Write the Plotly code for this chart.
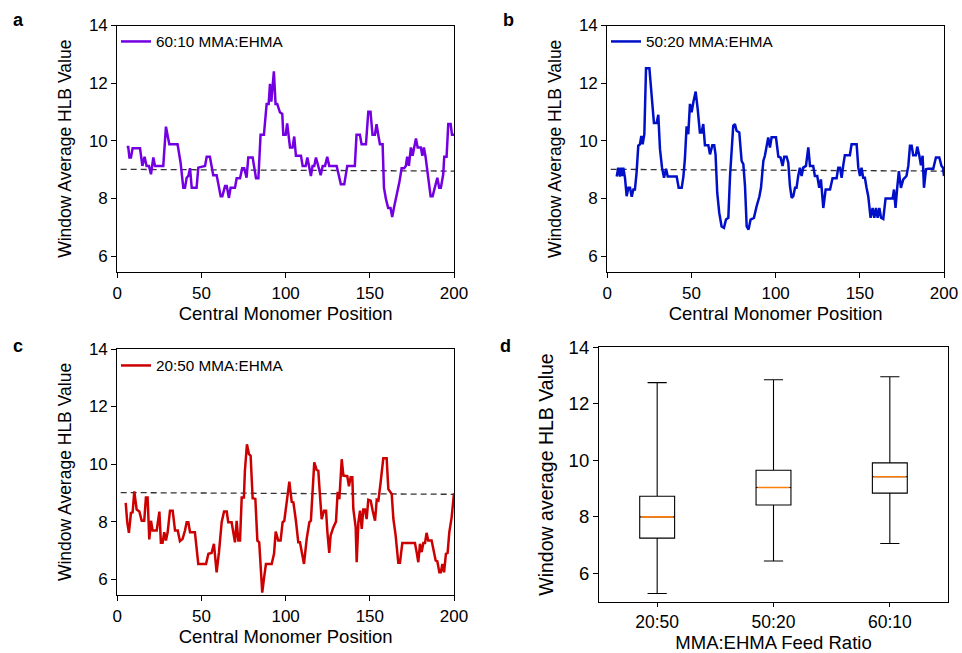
import plotly.graph_objects as go

# ---------------- data ----------------
a_x = [5.6, 6.5, 7.2, 8.1, 9.1, 13.5, 14.9, 16.2, 17.4, 18.8, 20.0, 21.4, 22.4, 27.3, 28.9, 30.9, 35.8, 37.6,
       39.2, 40.2, 41.2, 42.2, 43.2, 44.2, 47.1, 48.1, 52.1, 53.1, 55.0, 56.0, 57.0, 59.0, 61.4, 62.4, 64.0,
       65.0, 66.3, 67.3, 69.9, 70.9, 72.9, 74.2, 75.4, 76.8, 77.8, 80.4, 82.4, 83.8, 85.1, 87.1, 88.7, 89.9,
       90.7, 91.5, 92.3, 93.0, 94.0, 95.0, 96.6, 98.0, 98.6, 100.0, 100.9, 101.9, 102.6, 104.1, 105.1, 106.1,
       109.1, 110.1, 111.9, 112.9, 114.0, 115.0, 116.0, 117.0, 118.0, 119.4, 120.8, 122.0, 123.4, 124.7,
       125.9, 130.3, 131.5, 132.8, 134.8, 136.6, 141.1, 142.1, 144.1, 145.1, 147.7, 149.1, 150.4, 151.6,
       153.0, 154.0, 155.0, 156.0, 157.6, 158.4, 159.6, 160.9, 162.3, 163.3, 164.3, 165.9, 167.5, 168.9,
       170.4, 171.4, 172.2, 173.2, 174.4, 175.4, 176.4, 177.4, 178.4, 180.3, 181.2, 182.1, 183.1, 184.7,
       186.1, 187.3, 188.7, 190.1, 191.2, 192.2, 193.6, 194.2, 195.6, 196.6, 198.0, 198.8, 200.0]
a_y = [9.79, 9.79, 9.42, 9.42, 9.74, 9.74, 9.13, 9.45, 9.13, 9.13, 8.84, 9.42, 9.13, 9.13, 10.49, 9.88, 9.88,
       9.24, 8.37, 8.37, 8.72, 8.78, 9.05, 8.37, 8.37, 9.07, 9.13, 9.45, 9.45, 9.07, 8.81, 8.81, 8.08, 8.08,
       8.43, 8.43, 8.02, 8.37, 8.37, 8.70, 8.70, 9.05, 9.05, 8.72, 9.42, 9.42, 8.70, 8.70, 10.21, 10.21,
       11.28, 11.28, 11.98, 11.36, 11.98, 12.41, 11.28, 11.28, 10.99, 10.93, 10.21, 10.21, 10.60, 10.17,
       9.77, 9.77, 10.15, 9.48, 9.48, 9.13, 9.13, 9.42, 9.13, 8.78, 9.13, 9.13, 9.42, 9.13, 8.81, 9.13, 9.13,
       9.45, 9.13, 9.13, 8.84, 8.49, 8.49, 9.13, 9.13, 10.21, 10.21, 9.88, 9.88, 11.01, 11.01, 10.21, 10.21,
       10.58, 10.21, 9.88, 9.88, 8.37, 7.97, 7.67, 7.67, 7.36, 7.67, 8.06, 8.55, 9.05, 9.05, 9.13, 9.45,
       9.13, 9.77, 9.48, 9.79, 10.08, 9.77, 9.77, 9.48, 9.77, 9.45, 8.78, 8.08, 8.08, 8.43, 8.72, 8.37, 8.37,
       8.84, 9.45, 9.45, 10.58, 10.58, 10.21, 10.21]

b_x = [5.6, 6.5, 7.5, 8.1, 8.9, 9.5, 10.5, 11.5, 12.5, 13.5, 14.5, 15.5, 16.4, 17.4, 18.4, 19.4, 20.2, 21.0,
       22.0, 23.0, 25.0, 26.3, 27.7, 29.3, 30.3, 31.3, 32.5, 33.7, 34.9, 35.9, 41.2, 42.4, 44.2, 45.2, 46.1,
       47.1, 48.1, 49.1, 50.1, 51.1, 52.5, 53.7, 55.0, 56.0, 57.0, 58.0, 60.0, 61.0, 62.4, 63.5, 64.3, 65.3,
       66.5, 67.9, 69.3, 70.5, 71.9, 72.9, 73.9, 74.8, 75.8, 76.8, 78.4, 79.8, 80.8, 81.8, 82.8, 83.9, 85.1,
       87.1, 88.7, 90.3, 91.3, 92.7, 93.6, 94.6, 95.6, 96.6, 97.6, 100.2, 101.6, 102.9, 104.1, 105.1, 106.5,
       107.5, 108.5, 109.5, 110.5, 111.5, 112.4, 113.4, 114.4, 115.4, 116.4, 118.0, 119.4, 120.4, 122.3,
       123.3, 124.7, 125.9, 126.9, 128.3, 129.7, 132.3, 133.8, 136.2, 137.2, 138.2, 139.2, 140.1, 141.1,
       144.1, 145.1, 148.1, 149.1, 150.1, 151.0, 152.0, 153.0, 154.0, 155.0, 156.4, 157.6, 158.6, 159.6,
       160.6, 161.6, 162.6, 163.9, 165.3, 169.5, 170.3, 171.2, 172.2, 173.2, 174.4, 175.8, 176.8, 177.7,
       178.8, 179.8, 180.8, 181.7, 183.3, 184.1, 185.3, 186.3, 187.3, 188.1, 189.3, 190.6, 193.6, 195.2,
       197.2, 198.5, 199.4, 200.0]
b_y = [8.76, 9.07, 8.76, 9.07, 8.78, 9.07, 8.72, 8.08, 8.37, 8.37, 8.06, 8.31, 8.31, 8.90, 9.83, 9.88, 10.17,
       9.88, 10.23, 12.52, 12.52, 11.69, 10.62, 10.62, 10.90, 9.71, 9.07, 8.72, 9.03, 8.76, 8.76, 8.37, 8.37,
       8.76, 9.38, 10.50, 10.23, 11.28, 10.99, 11.34, 11.71, 11.10, 10.29, 10.29, 10.58, 9.85, 9.85, 9.53,
       9.85, 9.85, 9.53, 8.20, 7.50, 7.03, 6.98, 7.27, 7.33, 8.78, 9.88, 10.52, 10.58, 10.35, 10.29, 9.30,
       9.19, 8.43, 7.03, 6.92, 7.27, 7.33, 7.73, 8.06, 8.37, 9.30, 9.48, 9.77, 10.12, 9.77, 10.12, 10.12,
       9.45, 9.42, 9.13, 9.45, 9.45, 9.24, 8.43, 8.02, 8.08, 8.37, 8.37, 8.78, 9.07, 8.78, 9.07, 9.13, 9.77,
       9.13, 9.13, 8.78, 8.78, 8.37, 8.66, 7.67, 8.31, 8.31, 8.70, 8.70, 9.07, 9.07, 8.72, 9.13, 9.50, 9.50,
       9.88, 9.88, 9.07, 8.78, 9.07, 8.72, 8.72, 8.37, 8.08, 7.33, 7.67, 7.33, 7.67, 7.33, 7.67, 7.33, 7.29,
       8.00, 8.00, 8.31, 7.67, 8.37, 8.95, 8.37, 8.66, 8.72, 8.78, 9.13, 9.83, 9.83, 9.50, 9.50, 9.80, 9.50,
       9.15, 9.48, 8.37, 9.01, 9.03, 9.03, 9.42, 9.42, 9.13, 9.07, 8.78]

c_x = [5.0, 5.9, 6.9, 8.1, 9.1, 10.1, 11.5, 13.1, 14.5, 16.0, 17.0, 18.0, 19.0, 20.0, 21.0, 23.4, 25.0, 25.9,
       26.9, 27.9, 28.9, 29.9, 31.3, 32.9, 34.3, 35.9, 37.2, 38.8, 40.2, 41.2, 42.2, 43.2, 46.1, 48.1, 52.7,
       54.1, 56.0, 57.4, 59.0, 60.4, 62.0, 63.4, 65.0, 65.9, 67.9, 69.9, 70.9, 71.9, 72.9, 73.9, 75.2, 75.8,
       77.0, 78.2, 79.2, 80.4, 82.0, 83.2, 84.3, 85.1, 86.1, 87.1, 88.3, 91.7, 93.1, 94.1, 95.6, 97.0, 98.2,
       99.2, 100.2, 101.2, 102.2, 103.6, 104.6, 106.1, 107.5, 108.5, 109.5, 110.9, 112.5, 114.1, 115.0, 116.0,
       117.0, 118.4, 119.4, 120.4, 121.4, 122.8, 124.0, 124.8, 125.9, 126.7, 128.3, 129.9, 130.9, 131.9,
       133.3, 134.3, 136.6, 137.6, 138.6, 139.6, 140.2, 141.6, 142.2, 143.2, 144.2, 145.2, 146.1, 147.1,
       148.1, 149.1, 150.5, 151.7, 153.1, 154.1, 155.1, 156.4, 158.0, 160.0, 161.0, 163.0, 164.0, 165.3,
       166.9, 167.9, 169.3, 170.9, 176.8, 177.8, 178.8, 179.8, 180.8, 181.8, 182.8, 183.7, 184.7, 186.7,
       188.1, 189.1, 190.1, 191.3, 192.2, 193.1, 194.1, 195.2, 196.2, 197.2, 198.6, 200.0]
c_y = [8.65, 7.98, 7.61, 8.30, 8.32, 9.05, 8.42, 8.35, 8.03, 8.03, 8.84, 8.84, 7.38, 8.03, 7.69, 7.69, 8.35,
       7.27, 7.27, 7.63, 7.34, 7.63, 8.38, 8.38, 7.69, 7.69, 7.32, 7.40, 7.69, 7.98, 7.98, 7.63, 7.63, 6.53,
       6.53, 6.88, 6.91, 7.23, 6.24, 6.94, 7.98, 8.35, 8.35, 7.98, 7.98, 7.28, 8.03, 7.34, 7.34, 8.84, 8.84,
       9.77, 10.69, 10.35, 10.29, 8.81, 8.79, 7.34, 7.28, 6.47, 5.53, 6.01, 6.53, 6.53, 6.88, 7.65, 7.34,
       7.34, 7.98, 8.03, 8.55, 9.08, 9.39, 8.69, 8.67, 8.03, 7.28, 7.28, 6.94, 6.53, 7.40, 7.98, 8.03, 9.08,
       10.06, 9.80, 9.77, 8.90, 8.09, 8.38, 8.38, 7.63, 6.91, 7.51, 7.80, 8.00, 9.04, 8.78, 10.17, 9.60,
       9.58, 9.23, 9.54, 9.54, 8.44, 7.80, 6.59, 7.98, 8.38, 7.75, 8.42, 8.42, 8.09, 8.76, 8.73, 8.38, 8.03,
       8.76, 8.73, 9.36, 10.20, 10.20, 9.13, 8.96, 8.09, 7.54, 6.57, 6.57, 7.26, 7.26, 7.26, 6.94, 6.59,
       7.23, 6.94, 7.26, 7.26, 7.61, 7.34, 7.34, 6.94, 6.65, 6.62, 6.24, 6.24, 6.53, 6.24, 6.88, 6.91, 7.63,
       8.15, 8.99]

mean_x = [2, 200]
mean_y = [9.01, 8.95]

series_names = ["60:10 MMA:EHMA", "50:20 MMA:EHMA", "20:50 MMA:EHMA"]

ratios = ["20:50", "50:20", "60:10"]
lower_whisker = [5.29, 6.44, 7.06]
q1 = [7.25, 8.42, 8.84]
median = [8.00, 9.04, 9.42]
q3 = [8.73, 9.65, 9.91]
upper_whisker = [12.75, 12.85, 12.96]

x_ticks = [0, 50, 100, 150, 200]
y_ticks = [6, 8, 10, 12, 14]

# ---------------- figure ----------------
W, H = 962, 653
FONT = "Liberation Sans, Arial, sans-serif"

def px_x(p):
    return p / W

def px_y(p):
    return 1 - p / H

fig = go.Figure()

line_panels = [
    ("x", "y", a_x, a_y, series_names[0], "#7400E2", "legend"),
    ("x2", "y2", b_x, b_y, series_names[1], "#0010C8", "legend2"),
    ("x3", "y3", c_x, c_y, series_names[2], "#CC0000", "legend3"),
]
for xa, ya, xs, ys, name, col, leg in line_panels:
    fig.add_trace(go.Scatter(x=mean_x, y=mean_y, xaxis=xa, yaxis=ya, mode="lines",
                             line=dict(color="#333333", width=1.3, dash="6px,4px"),
                             showlegend=False, hoverinfo="skip"))
    fig.add_trace(go.Scatter(x=xs, y=ys, xaxis=xa, yaxis=ya, mode="lines", name=name,
                             line=dict(color=col, width=2.5), legend=leg))

BOX_W = 0.3
for i, r in enumerate(ratios):
    fig.add_trace(go.Box(x=[i], q1=[q1[i]], median=[median[i]], q3=[q3[i]],
                         lowerfence=[lower_whisker[i]], upperfence=[upper_whisker[i]],
                         xaxis="x4", yaxis="y4", width=BOX_W, whiskerwidth=0.55,
                         fillcolor="white", line=dict(color="black", width=1.1),
                         boxpoints=False, showlegend=False, name=r, hoverinfo="skip"))
    # median drawn on top in orange
    fig.add_shape(type="line", xref="x4", yref="y4", layer="above",
                  x0=i - BOX_W / 2 + 0.012, x1=i + BOX_W / 2 - 0.012, y0=median[i], y1=median[i],
                  line=dict(color="#FF7F0E", width=1.6))

axis_common = dict(showline=True, mirror=True, linecolor="black", linewidth=1.2, ticks="outside",
                   ticklen=5, tickwidth=1.2, tickcolor="black", showgrid=False, zeroline=False,
                   automargin=False, tickfont=dict(family=FONT, size=17, color="black"))

dom_x_left = [px_x(117.3), px_x(454)]
dom_x_right = [px_x(607.3), px_x(944)]
dom_y_top = [px_y(272), px_y(25.5)]
dom_y_bot = [px_y(595), px_y(349)]

def xaxis_line(domain, anchor):
    return dict(axis_common, domain=domain, anchor=anchor, range=[0, 200], tickvals=x_ticks,
                title=dict(text="Central Monomer Position", font=dict(family=FONT, size=18.5, color="black"),
                           standoff=5))

def yaxis_line(domain, anchor):
    return dict(axis_common, domain=domain, anchor=anchor, range=[5.45, 14], tickvals=y_ticks,
                title=dict(text="Window Average HLB Value", font=dict(family=FONT, size=17.5, color="black"),
                           standoff=12))

fig.update_layout(
    width=W, height=H, autosize=False, margin=dict(l=0, r=0, t=0, b=0, pad=0),
    paper_bgcolor="white", plot_bgcolor="white",
    font=dict(family=FONT, color="black"),
    xaxis=xaxis_line(dom_x_left, "y"),
    yaxis=yaxis_line(dom_y_top, "x"),
    xaxis2=xaxis_line(dom_x_right, "y2"),
    yaxis2=yaxis_line(dom_y_top, "x2"),
    xaxis3=xaxis_line(dom_x_left, "y3"),
    yaxis3=yaxis_line(dom_y_bot, "x3"),
    xaxis4=dict(axis_common, domain=[px_x(599), px_x(948)], anchor="y4", range=[-0.5, 2.5],
                tickvals=[0, 1, 2], ticktext=ratios, ticklen=4,
                tickfont=dict(family=FONT, size=17.5, color="black"),
                title=dict(text="MMA:EHMA Feed Ratio", font=dict(family=FONT, size=18.5, color="black"),
                           standoff=1)),
    yaxis4=dict(axis_common, domain=[px_y(601.7), px_y(347.3)], anchor="x4", range=[5.0, 14],
                tickvals=y_ticks, tickfont=dict(family=FONT, size=18.5, color="black"),
                title=dict(text="Window average HLB Value", font=dict(family=FONT, size=19.5, color="black"),
                           standoff=9)),
)

leg_common = dict(xanchor="left", yanchor="top", bgcolor="rgba(0,0,0,0)", borderwidth=0,
                  font=dict(family=FONT, size=15.3, color="black"), itemwidth=30)
fig.update_layout(
    legend=dict(leg_common, x=px_x(116), y=px_y(25)),
    legend2=dict(leg_common, x=px_x(606), y=px_y(25)),
    legend3=dict(leg_common, x=px_x(116), y=px_y(349)),
)

for letter, xp, yp in [("a", 18, 20), ("b", 508, 20), ("c", 18, 346), ("d", 505, 346)]:
    fig.add_annotation(text="<b>%s</b>" % letter, x=px_x(xp), y=px_y(yp), xref="paper", yref="paper",
                       xanchor="center", yanchor="middle",
                       showarrow=False, font=dict(family=FONT, size=18, color="black"))

fig.write_html("out.html")
